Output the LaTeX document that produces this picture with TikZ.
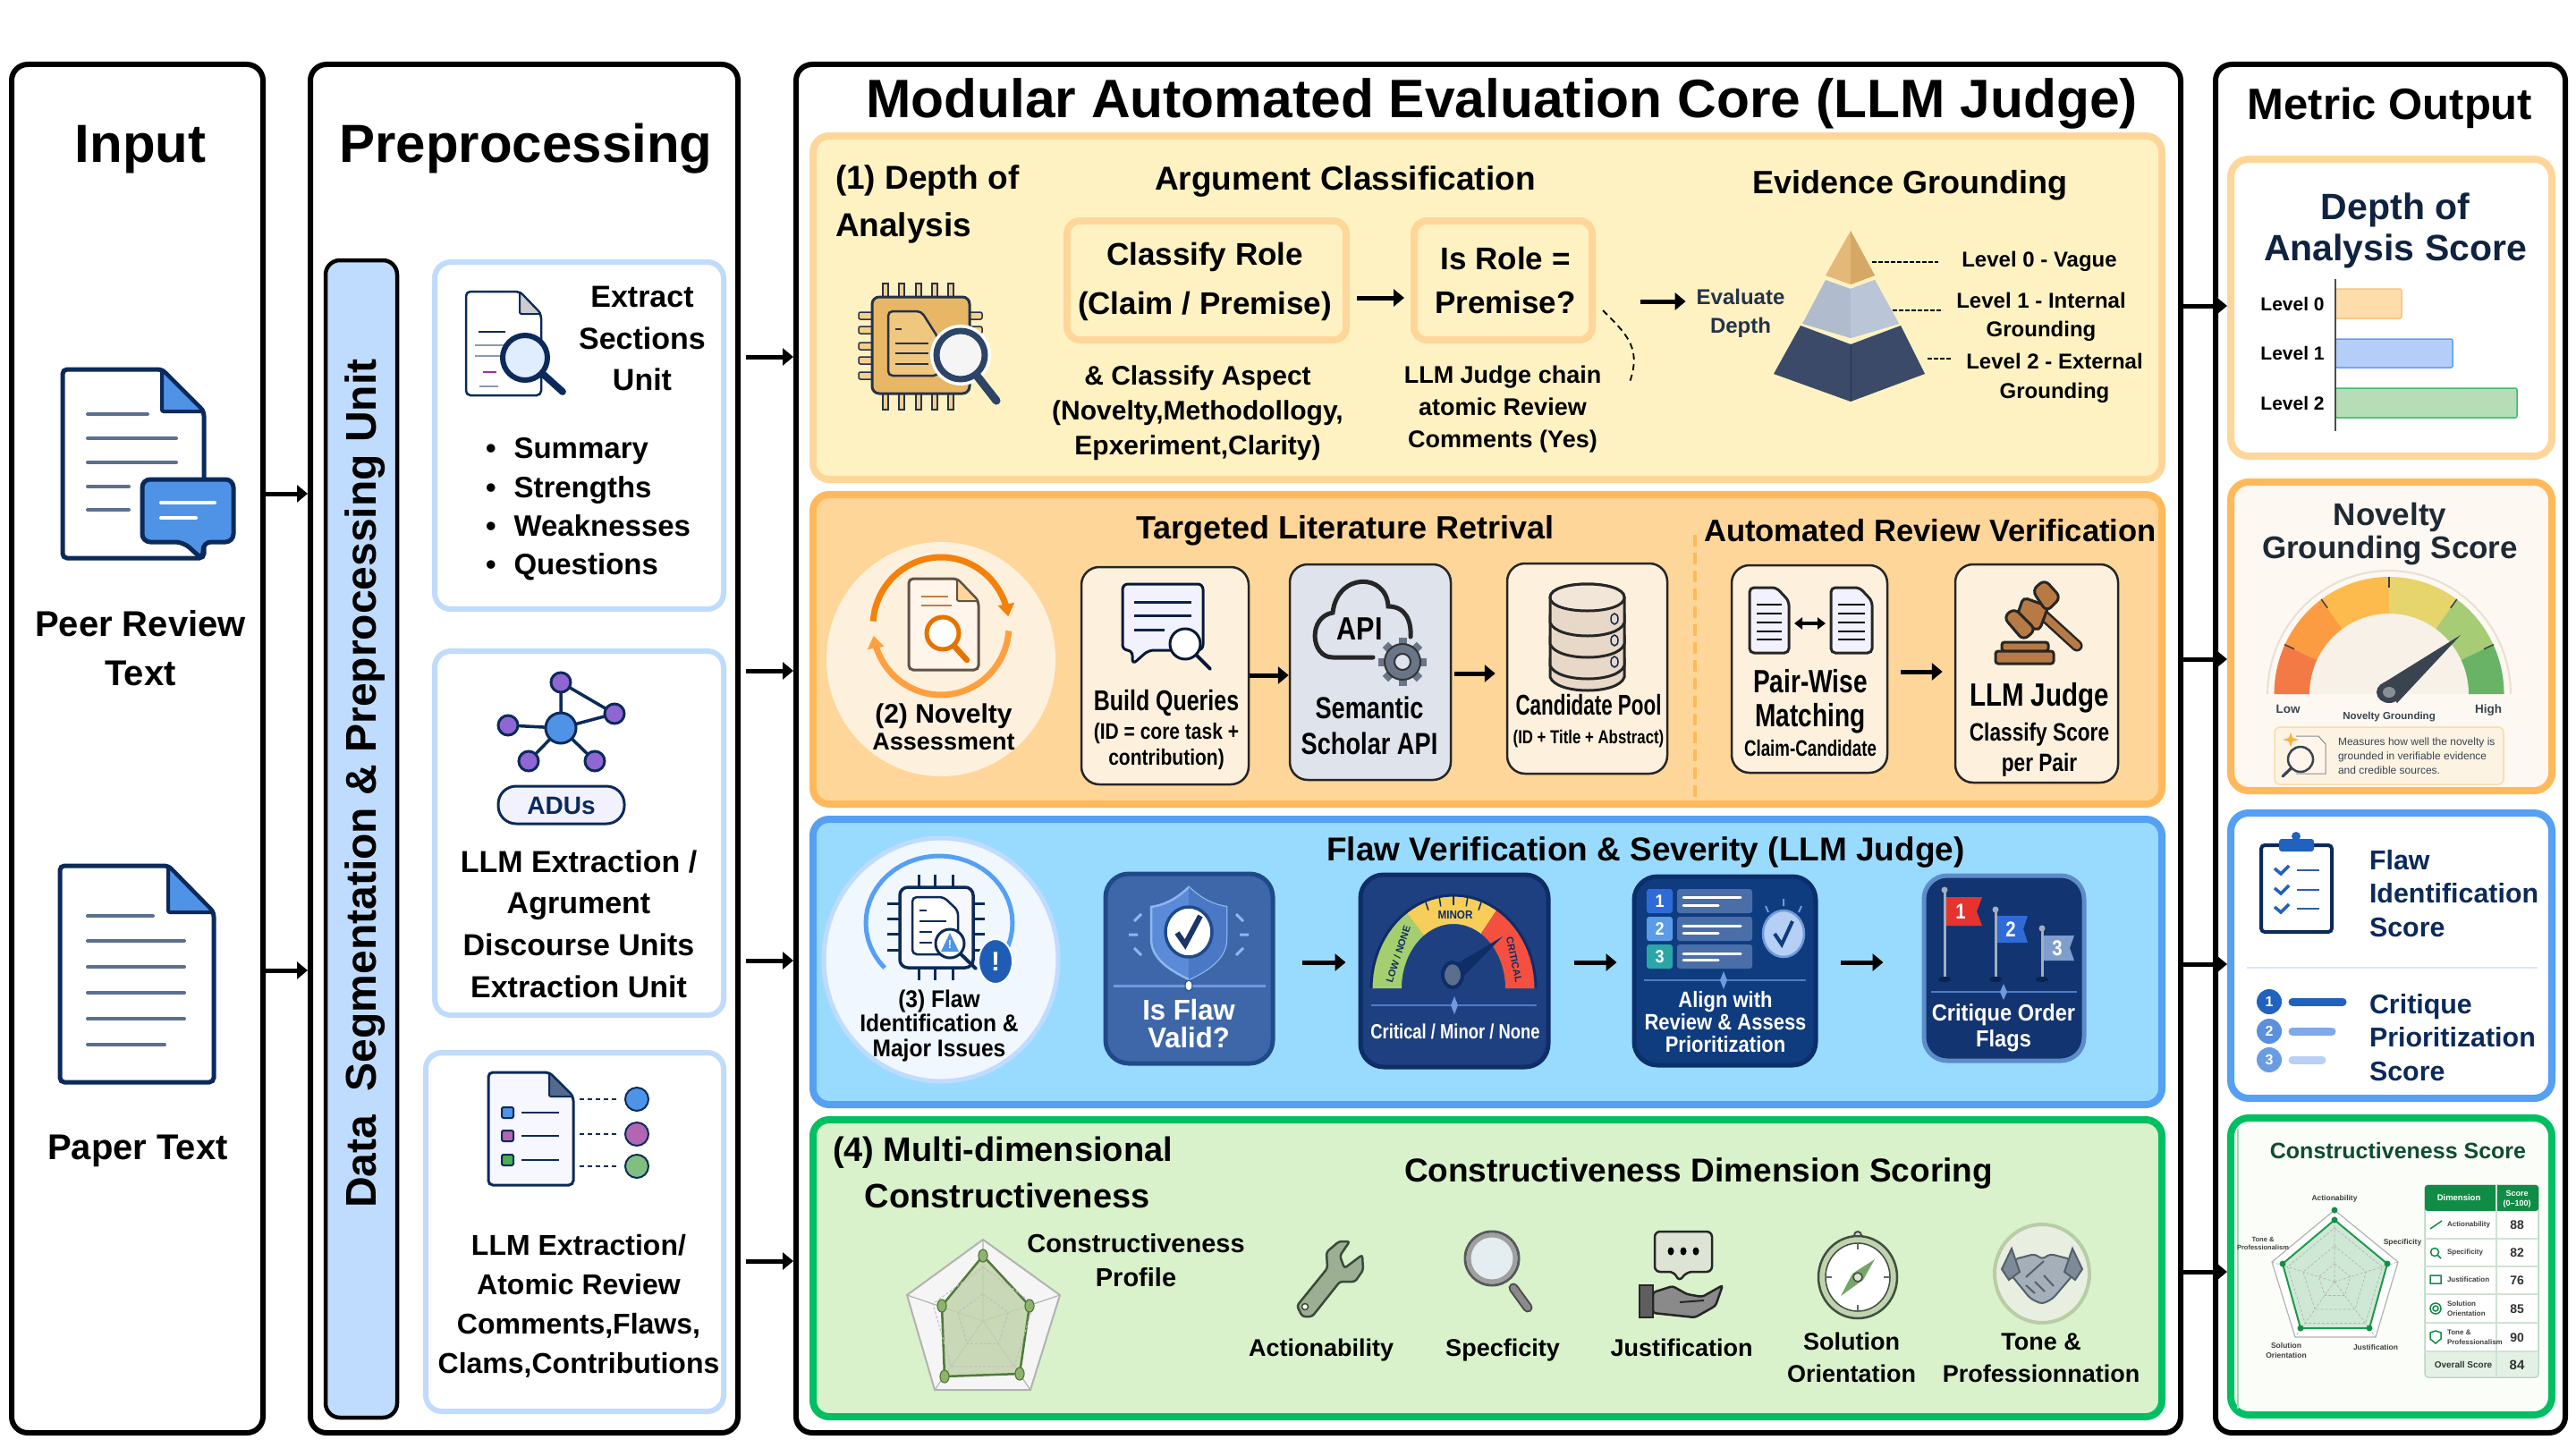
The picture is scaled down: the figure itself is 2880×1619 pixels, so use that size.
\documentclass[tikz,border=0pt]{standalone}
\usepackage{fontspec}
\setmainfont{Liberation Sans}
\usepackage{graphicx}
\usetikzlibrary{arrows.meta,calc}
\definecolor{navy}{HTML}{0B2A5B}
\definecolor{slate}{HTML}{5B6F91}
\definecolor{docblue}{HTML}{4F93E6}
\definecolor{cardb}{HTML}{BFDBFE}
\definecolor{pAf}{HTML}{FFF2C2}\definecolor{pAb}{HTML}{FFD699}
\definecolor{pBf}{HTML}{FFD699}\definecolor{pBb}{HTML}{FFB95A}
\definecolor{pCf}{HTML}{99DBFF}\definecolor{pCb}{HTML}{559FF5}
\definecolor{pDf}{HTML}{D9F2CB}\definecolor{pDb}{HTML}{00BF63}
\definecolor{cream}{HTML}{FDF1DD}
\definecolor{ink}{HTML}{24324B}
\globalcolorstrue
\foreach \cc in {B0BCCE,BAC6D8,3A4A68,FDF1DD,DEE3EC,6A7588,E8D8C8,F2E6D9,B87A45,F0F7FF,1F5CB5,3E67AA,1F4A8A,8FB6EE,5A8AD8,4A78C5,1A3566,6D9AE0,1E4080,0F2D66,A5CF6E,F7CE5A,F5503F,5A6F8C,4F7DC4,0F3B7F,0B2F6B,4A6FA8,2F6BD6,5B9BE8,2BA6A6,B5CFF5,123470,5D8CCB,A0AEC0,0B2350,E6332E,7F9ECB,C2D4AC,4F7A3A,8FB36F,9CAF93,3B4A3B,8A8A8A,55595C,E4EDF0,A0A0A0,DDE3D5,5E5E5E,C0D2AE,3F4F3F,77A468,E8EFE0,B8CDA5,A4AFB9,55606B,7E8A97,FDF8F2,FBFDF9,0F2340,FEDDAB,F9C37A,B4CEF8,5E9DF0,B7DDB7,3DBB6E,1F2933,EADFD2,F8F1E8,F47A45,FB9C43,FDBB4E,E6D46C,A6CC75,68B365,3A4450,8A8F96,FDF3E3,F9DDA8,F9B040,2062BE,2F5FA0,D7E7FB,5A90DD,6A9CE3,7FA9E8,B8D0F5,9DD9B4,0E4D30,CFE8D5,1D9A4A,129044,B5D6BE,E3F1E4,118C46,CFE2D4,E8B765,F0C77F,F5D08C,E3B878,D6A866}{\edef\tmpcc{\noexpand\definecolor{h\cc}{HTML}{\cc}}\tmpcc}
\globalcolorsfalse
\tikzset{
 box/.style={rectangle,inner sep=0pt,rounded corners=14pt},
 bigbox/.style={box,draw=black,line width=6pt,fill=white,rounded corners=18pt},
 panelbox/.style={box,line width=8pt,rounded corners=18pt},
 innerbox/.style={box,draw=cardb,line width=6pt,fill=white,rounded corners=18pt},
 lbl/.style={inner sep=0pt,outer sep=0pt},
 arr/.style={draw=black,line width=5pt,-{Triangle[length=12pt,width=19pt]}},
 softcard/.style={box,draw=black!85,line width=2.5pt,fill=cream,rounded corners=20pt},
 darkcard/.style={box,line width=5pt,rounded corners=26pt},
 docln/.style={draw=slate,line width=4pt,line cap=round},
}
\newcommand\bx[6][]{\node[box,#1,minimum width={#5-#3},minimum height={#6-#4}] (#2) at ({(#3+#5)/2},{(#4+#6)/2}) {};}
\newcommand\ml[8][]{\node[lbl,#1,font=\fontsize{#5}{#6}\selectfont\bfseries] (#2) at (#3,{#4+0.36*#5-0.2*#6}) {\scalebox{#7}[1]{\begin{tabular}{@{}c@{}}#8\end{tabular}}};}
\newcommand\mll[8][]{\node[lbl,anchor=west,#1,font=\fontsize{#5}{#6}\selectfont\bfseries] (#2) at (#3,{#4+0.36*#5-0.2*#6}) {\scalebox{#7}[1]{\begin{tabular}{@{}l@{}}#8\end{tabular}}};}
\newcommand\docc[7][]{\draw[#1,rounded corners=5pt] (#2,#3) -- (#6,#3) -- (#4,#7) -- (#4,#5) -- (#2,#5) -- cycle;}
\newcommand\fold[5]{\filldraw[#5,rounded corners=2pt] (#1,#2) -- (#3,#4) -- (#1,#4) -- cycle;}
\newcommand\magn[8]{\draw[#6,line width={#8*1.3},line cap=round] (#1,#2) -- (#4,#5);\fill[#7] (#1,#2) circle[radius=#3];\draw[#6,line width=#8] (#1,#2) circle[radius=#3];}
\newcommand\arcg[7][]{\draw[#1] plot[domain=#6:#7,samples=40] ({#2+#4*cos(\x)},{#3-#5*sin(\x)});}
\newcommand\wdg[9]{\fill[#9] plot[domain=#7:#8,samples=24] ({#1+#3*cos(\x)},{#2-#4*sin(\x)}) -- plot[domain=#8:#7,samples=24] ({#1+#5*cos(\x)},{#2-#6*sin(\x)}) -- cycle;}
\begin{document}
\begin{tikzpicture}[x=1pt,y=-1pt]
\useasboundingbox (0,0) rectangle (2880,1619);
\fill[white] (0,0) rectangle (2880,1619);
% big columns
\bx[bigbox]{inbox}{13}{72}{294}{1602}
\bx[bigbox]{prebox}{347}{72}{825}{1602}
\bx[bigbox]{corebox}{890}{72}{2438}{1602}
\bx[bigbox]{metbox}{2477}{72}{2868}{1602}
% INPUT
\ml{tinput}{157}{160}{60}{70}{1}{Input}
\docc[draw=navy,line width=5pt,fill=white]{70}{413}{228}{624}{181}{460}
\fold{181}{413}{228}{460}{draw=navy,line width=4pt,fill=docblue}
\foreach \y/\e in {463/165,490/197,517/197,544/144,570/144} \draw[docln] (98,\y) -- (\e,\y);
\draw[draw=navy,line width=5pt,fill=docblue,rounded corners=9pt] (159,536) -- (261,536) -- (261,606) -- (227,606) -- (227,626) -- (205,606) -- (159,606) -- cycle;
\draw[white,line width=4pt,line cap=round] (180,562) -- (240,562);
\draw[white,line width=4pt,line cap=round] (180,579) -- (219,579);
\ml{tpeer}{157}{725}{40}{55}{1}{Peer Review\\Text}
\docc[draw=navy,line width=5pt,fill=white]{67}{968}{239}{1210}{188}{1020}
\fold{188}{968}{239}{1020}{draw=navy,line width=4pt,fill=docblue}
\foreach \y/\e in {1024/171,1052/206,1081/206,1110/206,1139/206,1168/184} \draw[docln] (98,\y) -- (\e,\y);
\ml{tpaper}{154}{1282}{40}{72}{1}{Paper Text}
% PREPROCESSING
\ml{tprep}{588}{160}{60}{70}{1}{Preprocessing}
\bx[fill=cardb,draw=black,line width=4.5pt,rounded corners=16pt]{segbar}{364}{291}{444}{1585}
\ml[rotate=90]{tseg}{403}{876}{48}{86}{1}{Data\ \ Segmentation \& Preprocessing Unit}
\bx[innerbox]{cardA}{486}{293}{809}{681}
\bx[innerbox]{cardB}{486}{728}{809}{1135}
\bx[innerbox]{cardC}{476}{1177}{809}{1578}
\docc[draw=navy,line width=2.5pt,fill=white]{521}{326}{605}{442}{581}{351}
\fold{581}{326}{605}{351}{draw=navy,line width=2pt,fill=black!20}
\foreach \y/\a/\b in {371/535/565,386/531/582,398/531/563,416/540/555,432/536/557} \draw[slate!70,line width=2pt] (\a,\y) -- (\b,\y);
\draw[navy,line width=2.5pt] (535,371) -- (565,371);
\draw[violet!80,line width=2.5pt] (540,416) -- (555,416);
\magn{587}{400}{25}{629}{438}{navy}{cardb!50}{6}
\ml{tsect}{718}{378}{34}{46.5}{1}{Extract\\Sections\\Unit}
\node[lbl,anchor=west,font=\fontsize{33}{43.3}\selectfont\bfseries] (tbul) at (543,569) {\begin{tabular}{@{}c@{\hspace{20pt}}l@{}}\textbullet & Summary\\\textbullet & Strengths\\\textbullet & Weaknesses\\\textbullet & Questions\end{tabular}};
% network
\draw[navy,line width=3.5pt] (627,763) -- (627,814) (627,763) -- (687,798) (687,798) -- (627,814) (568,811) -- (627,814) (591,851) -- (627,814) (665,851) -- (627,814);
\foreach \x/\y in {627/763,687/798,568/811,591/851,665/851} \filldraw[fill=violet!55!blue!60,draw=navy,line width=3pt] (\x,\y) circle[radius=11];
\filldraw[fill=docblue,draw=navy,line width=3pt] (627,814) circle[radius=17];
\bx[fill=blue!5,draw=navy,line width=3pt,rounded corners=20pt]{pill}{557}{879}{698}{921}
\ml[text=navy]{tadu}{627.5}{900}{28}{50}{1}{ADUs}
\ml{tllma}{647}{1033}{34}{46.7}{1}{LLM Extraction /\\Agrument\\Discourse Units\\Extraction Unit}
% atomic
\docc[draw=navy,line width=3pt,fill=blue!3]{546}{1199}{641}{1325}{614}{1226}
\fold{614}{1199}{641}{1226}{draw=navy,line width=2pt,fill=navy!70}
\foreach \y/\c in {1244/docblue,1270/violet!60,1297/green!55!black!70} {\filldraw[fill=\c,draw=navy,line width=2pt,rounded corners=2pt] (561,\y-6) rectangle (574,\y+6);\draw[navy,line width=2.5pt] (583,\y) -- (625,\y);}
\foreach \y/\c in {1229/docblue,1268/violet!60,1304/green!50!black!50} {\draw[navy,line width=2.5pt,dash pattern=on 5pt off 4pt] (648,\y) -- (692,\y);\filldraw[fill=\c,draw=navy,line width=2pt] (712,\y) circle[radius=13];}
\ml{tllmb}{647}{1458}{32}{44}{1}{LLM Extraction/\\Atomic Review\\Comments,Flaws,\\Clams,Contributions}
% CORE
\ml{tcore}{1679}{110}{60.5}{100}{1}{Modular Automated Evaluation Core (LLM Judge)}
\bx[panelbox,fill=pAf,draw=pAb]{panA}{909}{152}{2417}{536}
\bx[panelbox,fill=pBf,draw=pBb]{panB}{909}{553}{2417}{899}
\bx[panelbox,fill=pCf,draw=pCb]{panC}{909}{916}{2417}{1235}
\bx[panelbox,fill=pDf,draw=pDb]{panD}{909}{1252}{2417}{1584}
% Panel 1
\mll{tdepth}{934}{225}{37}{53}{1}{(1) Depth of\\Analysis}
\ml{targ}{1504}{199}{37}{66}{1}{Argument Classification}
\ml{tevid}{2135}{204}{36}{64}{1}{Evidence Grounding}
\foreach \x in {990,1008,1027,1045,1063} \filldraw[fill=hF5D08C,draw=ink,line width=1.5pt] (\x-3,317) rectangle (\x+3,458);
\foreach \y in {353,369,387,403,420} \filldraw[fill=hF5D08C,draw=ink,line width=1.5pt,rounded corners=2pt] (960,\y-4) rectangle (1098,\y+4);
\filldraw[fill=hE8B765,draw=ink,line width=3pt,rounded corners=8pt] (975,332) rectangle (1084,440);
\docc[draw=ink,line width=2.5pt,fill=hF0C77F]{993}{348}{1049}{420}{1030}{378}
\foreach \y/\e in {368/1008,384/1038,395/1038,407/1038} \draw[ink,line width=2.5pt] (1001,\y) -- (\e,\y);
\fill[white] (1074,397) circle[radius=34];
\magn{1074}{397}{27}{1114}{448}{navy!70!gray}{white!92!gray}{7}
\bx[draw=pAb,fill=pAf,line width=8pt,rounded corners=14pt]{cls}{1193}{247}{1505}{380}
\ml{tcls}{1347}{311}{35}{55}{1}{Classify Role\\(Claim / Premise)}
\bx[draw=pAb,fill=pAf,line width=8pt,rounded corners=14pt]{isrole}{1581}{247}{1780}{380}
\ml{tisr}{1683}{313}{35}{49}{1}{Is Role =\\Premise?}
\ml{tasp}{1339}{459}{30}{39}{1}{\& Classify Aspect\\(Novelty,Methodollogy,\\Epxeriment,Clarity)}
\ml{tchain}{1680}{455}{27}{36}{1}{LLM Judge chain\\atomic Review\\Comments (Yes)}
\coordinate (dcA) at (1792,347);\coordinate (dcB) at (1821,430);
\draw[black,line width=1.8pt,dash pattern=on 7pt off 5pt] (dcA) .. controls (1820,375) and (1836,390) .. (dcB);
\ml[text=ink]{tevald}{1946}{348}{24}{32}{1}{Evaluate\\Depth}
% pyramid
\fill[hE3B878] (2069,258) -- (2096,308) -- (2069,318) -- (2041,308) -- cycle;
\fill[hD6A866] (2069,258) -- (2096,308) -- (2069,318) -- cycle;
\fill[hB0BCCE] (2041,313) -- (2069,323) -- (2096,313) -- (2123,362) -- (2069,378) -- (2015,362) -- cycle;
\fill[hBAC6D8] (2069,323) -- (2096,313) -- (2123,362) -- (2069,378) -- cycle;
\fill[h3A4A68] (2013,364) -- (2069,385) -- (2125,364) -- (2152,418) -- (2069,449) -- (1983,418) -- cycle;
\draw[ink,line width=1pt] (2069,385) -- (2069,449);
\coordinate (lzA) at (2093,293);\coordinate (lzB) at (2167,293);
\coordinate (loA) at (2116,347);\coordinate (loB) at (2172,347);
\coordinate (ltA) at (2155,401);\coordinate (ltB) at (2182,401);
\draw[black,line width=2.5pt,dash pattern=on 5pt off 2pt] (lzA) -- (lzB) (loA) -- (loB) (ltA) -- (ltB);
\ml{tlz}{2280}{290}{24}{32}{1}{Level 0 - Vague}
\ml{tlo}{2282}{352}{24}{32}{1}{Level 1 - Internal\\Grounding}
\ml{tlt}{2297}{420}{24}{33}{1}{Level 2 - External\\Grounding}
% Panel 2
\ml{ttar}{1504}{590}{36}{64}{1}{Targeted Literature Retrival}
\ml{tauto}{2158}{593}{34.6}{60}{1}{Automated Review Verification}
\draw[pBb,line width=4pt,dash pattern=on 13pt off 7pt] (1895,598) -- (1895,899);
\fill[hFDF1DD] (1052,737) ellipse[x radius=128,y radius=131];
\docc[draw=ink!60!brown,line width=3pt,fill=white!92!orange]{1016}{647}{1094}{749}{1070}{672}
\fold{1070}{647}{1094}{672}{draw=ink!60!brown,line width=2pt,fill=pAb}
\foreach \y/\e in {667/1060,677/1064} \draw[brown,line width=2.5pt] (1030,\y) -- (\e,\y);
\magn{1054}{708}{18}{1081}{738}{orange!90!black}{white}{5}
\arcg[draw=orange!85!brown,line width=7pt,-{Triangle[length=14pt,width=18pt]}]{1052}{700}{76}{77}{176}{8}
\arcg[draw=orange!75,line width=7pt,-{Triangle[length=14pt,width=18pt]}]{1052}{700}{76}{77}{-4}{-172}
\ml{tnovA}{1055}{798}{30}{40}{1}{(2) Novelty}
\ml{tnovB}{1055}{829}{27}{36}{1}{Assessment}
\bx[softcard]{bq}{1209}{634}{1396}{877}
\draw[navy!60!black,line width=3pt,fill=white!95!blue,rounded corners=6pt] (1255,653) -- (1345,653) -- (1345,727) -- (1284,727) -- (1266,743) -- (1266,727) -- (1255,727) -- cycle;
\foreach \y/\e in {673/1332,688/1332,704/1302} \draw[navy!80!black,line width=3pt] (1268,\y) -- (\e,\y);
\magn{1325}{720}{17}{1353}{748}{navy!60!black}{white}{3}
\ml{tbq}{1304}{783}{32}{44}{.78}{Build Queries}
\ml{tbqs}{1304}{832}{25}{29}{.84}{(ID = core task +\\contribution)}
\bx[softcard,fill=hDEE3EC]{ssa}{1442}{631}{1622}{872}
\draw[black!85,line width=5pt,line cap=round] (1535,735) -- (1490,735) .. controls (1465,735) and (1462,690) .. (1490,685) .. controls (1495,640) and (1550,640) .. (1552,678) .. controls (1572,678) and (1578,695) .. (1577,712);
\ml{tapi}{1520}{703}{36}{50}{.85}{API}
\foreach \a in {0,45,...,315} \draw[h6A7588,line width=9pt] (1568,740) -- ({1568+27*cos(\a)},{740+27*sin(\a)});
\filldraw[fill=h6A7588,draw=black!80,line width=2pt] (1568,740) circle[radius=20];
\filldraw[fill=hDEE3EC,draw=black!80,line width=2pt] (1568,740) circle[radius=9];
\ml{tsem}{1531}{811}{34}{40}{.8}{Semantic\\Scholar API}
\bx[softcard]{cand}{1685}{630}{1864}{865}
\filldraw[fill=hE8D8C8,draw=black!85,line width=3pt] (1733,737) -- (1733,757) .. controls (1740,777) and (1810,777) .. (1816,757) -- (1816,737) -- cycle;
\foreach \y in {716,692} \draw[fill=hE8D8C8,draw=black!85,line width=3pt] (1733,\y) .. controls (1740,\y+20) and (1810,\y+20) .. (1816,\y) -- (1816,\y+28) .. controls (1810,\y+48) and (1740,\y+48) .. (1733,\y+28) -- cycle;
\filldraw[fill=hE8D8C8,draw=black!85,line width=3pt] (1733,668) .. controls (1733,648) and (1816,648) .. (1816,668) -- (1816,696) .. controls (1810,716) and (1740,716) .. (1733,696) -- cycle;
\draw[black!85,line width=3pt,fill=hF2E6D9] (1733,668) .. controls (1733,648) and (1816,648) .. (1816,668) .. controls (1816,688) and (1733,688) .. (1733,668) -- cycle;
\foreach \y in {692,716,740} \draw[navy,line width=1.5pt] (1805,\y) ellipse[x radius=4,y radius=6];
\ml{tcand}{1776}{788}{32}{40}{.7}{Candidate Pool}
\ml{tcands}{1776}{824}{21}{30}{.8}{(ID + Title + Abstract)}
\bx[softcard]{pair}{1936}{632}{2110}{864}
\foreach \a/\b in {1956/2000,2047/2093}{
 \docc[draw=black!85,line width=3pt,fill=white!95!blue]{\a}{657}{\b}{730}{\b-14}{672}
 \foreach \y in {676,686,696,706,715} \draw[black,line width=2.5pt] (\a+8,\y) -- (\b-8,\y);
}
\draw[black,line width=3.5pt,{Triangle[length=9pt,width=13pt]}-{Triangle[length=9pt,width=13pt]}] (2006,697) -- (2041,697);
\ml{tpw}{2024}{781}{36}{38}{.78}{Pair-Wise\\Matching}
\ml{tpwc}{2024}{836}{25}{32}{.75}{Claim-Candidate}
\bx[softcard]{lju}{2186}{631}{2368}{875}
\draw[black!85,line width=13pt,line cap=round] (2276,680) -- (2322,722);
\draw[hB87A45,line width=8pt,line cap=round] (2276,680) -- (2322,722);
\draw[black!85,fill=hB87A45,line width=3pt,rounded corners=5pt] (2262,668) -- (2290,678) -- (2280,705) -- (2253,695) -- cycle;
\draw[black!85,fill=hB87A45,line width=3pt,rounded corners=7pt] (2272,660) -- (2286,648) -- (2304,668) -- (2288,684) -- cycle;
\draw[black!85,fill=hB87A45,line width=3pt,rounded corners=7pt] (2240,690) -- (2252,680) -- (2276,704) -- (2262,716) -- cycle;
\filldraw[fill=hB87A45,draw=black!85,line width=3pt,rounded corners=3pt] (2238,718) rectangle (2290,728);
\filldraw[fill=hB87A45,draw=black!85,line width=3pt,rounded corners=3pt] (2231,728) rectangle (2296,742);
\ml{tlj}{2280}{777}{36}{50}{.82}{LLM Judge}
\ml{tljs}{2280}{835}{28}{34}{.81}{Classify Score\\per Pair}
% Panel 3
\ml{tflawt}{1840}{949}{37}{66}{1}{Flaw Verification \& Severity (LLM Judge)}
\filldraw[fill=hF0F7FF,draw=cardb,line width=5pt] (1052,1073) ellipse[x radius=131,y radius=136];
\arcg[draw=pCb,line width=5pt]{1050}{1032}{82}{75}{-40}{222}
\filldraw[fill=white!97!blue,draw=navy,line width=3.5pt,rounded corners=9pt] (1006,992) rectangle (1088,1082);
\foreach \x in {1027,1045,1065} \draw[navy,line width=3pt] (\x,978) -- (\x,992) (\x,1082) -- (\x,1096);
\foreach \y in {1010,1027,1044,1062} \draw[navy,line width=3pt] (992,\y) -- (1006,\y) (1088,\y) -- (1101,\y);
\docc[draw=navy,line width=2.5pt,fill=white]{1020}{1003}{1071}{1067}{1055}{1018}
\foreach \y/\e in {1018/1036,1030/1058,1042/1042,1054/1042} \draw[navy,line width=2.5pt] (1028,\y) -- (\e,\y);
\magn{1062}{1055}{16}{1091}{1083}{navy}{white}{3}
\fill[docblue] (1062,1043) -- (1072,1064) -- (1052,1064) -- cycle;
\ml[text=white]{texcl}{1062}{1056}{13}{18}{1}{!}
\filldraw[fill=h1F5CB5,draw=white,line width=2pt] (1113,1075) ellipse[x radius=19,y radius=25];
\ml[text=white]{texcb}{1113}{1075}{30}{54}{1}{!}
\ml{tflA}{1050}{1144}{27}{27.5}{.91}{(3) Flaw\\Identification \&\\Major Issues}
\bx[darkcard,fill=h3E67AA,draw=h1F4A8A]{ffv}{1236}{977}{1423}{1189}
\draw[line width=2.5pt,draw=h8FB6EE,fill=h5A8AD8] (1329,992) .. controls (1345,1007) and (1358,1012) .. (1371,1014) -- (1371,1050) .. controls (1371,1072) and (1350,1085) .. (1329,1095) .. controls (1308,1085) and (1287,1072) .. (1287,1050) -- (1287,1014) .. controls (1300,1012) and (1313,1007) .. (1329,992) -- cycle;
\fill[h4A78C5] (1329,992) .. controls (1345,1007) and (1358,1012) .. (1371,1014) -- (1371,1050) .. controls (1371,1072) and (1350,1085) .. (1329,1095) -- cycle;
\filldraw[fill=white,draw=h1F4A8A,line width=3.5pt] (1329,1042) ellipse[x radius=26,y radius=28];
\draw[h1A3566,line width=6pt] (1316,1043) -- (1325,1056) -- (1342,1024);
\draw[h8FB6EE,line width=3pt] (1262,1045) -- (1272,1045) (1386,1045) -- (1396,1045) (1268,1030) -- (1276,1022) (1390,1030) -- (1382,1022) (1268,1060) -- (1276,1068) (1390,1060) -- (1382,1068);
\draw[h6D9AE0,line width=3pt] (1245,1102) -- (1415,1102);
\filldraw[fill=white,draw=h1F4A8A,line width=1pt] (1329,1102) ellipse[x radius=4,y radius=6];
\ml[text=white]{tisf}{1329}{1143}{32}{29}{.97}{Is Flaw\\Valid?}
\bx[darkcard,fill=h1E4080,draw=h0F2D66]{gau}{1521}{978}{1731}{1193}
\wdg{1625}{1105}{92}{104}{58}{72}{180}{125}{hA5CF6E}
\wdg{1625}{1105}{92}{104}{58}{72}{125}{58}{hF7CE5A}
\wdg{1625}{1105}{92}{104}{58}{72}{58}{0}{hF5503F}
\arcg[draw=h0F2D66,line width=3pt]{1625}{1105}{92}{104}{0}{180}
\foreach \a in {70,80,90,100,110} \draw[h0F2D66,line width=1.5pt] ({1625+92*cos(\a)},{1105-104*sin(\a)}) -- ({1625+82*cos(\a)},{1105-93*sin(\a)});
\fill[h0F2D66] (1680,1047) -- (1632,1096) -- (1618,1084) -- cycle;
\filldraw[fill=h5A6F8C,draw=h0F2D66,line width=4pt] (1624,1090) ellipse[x radius=11,y radius=14];
\ml[text=h0F2D66]{tgm}{1627}{1023}{13}{18}{.9}{MINOR}
\ml[rotate=72,text=h0F2D66]{tgl}{1563}{1067}{11}{20}{1}{LOW / NONE}
\ml[rotate=-78,text=h0F2D66]{tgc}{1693}{1073}{11}{20}{1}{CRITICAL}
\draw[h4F7DC4,line width=2.5pt] (1533,1124) -- (1718,1124);
\fill[h6D9AE0] (1626,1114) -- (1630,1124) -- (1626,1134) -- (1622,1124) -- cycle;
\ml[text=white]{tcmn}{1627}{1153}{23}{34}{.8}{Critical / Minor / None}
\bx[darkcard,fill=h0F3B7F,draw=h0B2F6B]{ali}{1827}{980}{2030}{1191}
\foreach \a/\b/\c/\n/\l/\m in {994/1021/2F6BD6/1/1003/1012,1025/1052/5B9BE8/2/1035/1043,1056/1083/2BA6A6/3/1066/1073}{
 \fill[color=h\c,rounded corners=3pt] (1841,\a) rectangle (1870,\b);
 \fill[h4A6FA8,rounded corners=3pt] (1875,\a) rectangle (1959,\b);
 \draw[white,line width=3pt,line cap=round] (1882,\l) -- (1946,\l) (1882,\m) -- (1921,\m);
 \ml[text=white]{tali\n}{1855.5}{(\a+\b)/2}{20}{36}{.9}{\n}
}
\filldraw[fill=hB5CFF5,draw=h6D9AE0,line width=2.5pt] (1994,1044) ellipse[x radius=23,y radius=26];
\draw[h0F3B7F,line width=4pt] (1984,1044) -- (1992,1056) -- (2004,1030);
\draw[h6D9AE0,line width=2pt] (1994,1005) -- (1994,1013) (1974,1013) -- (1977,1020) (2014,1013) -- (2011,1020);
\draw[h4F7DC4,line width=2.5pt] (1838,1096) -- (2019,1096);
\fill[h6D9AE0] (1927,1086) -- (1931,1096) -- (1927,1106) -- (1923,1096) -- cycle;
\ml[text=white]{talit}{1929}{1142}{25}{24.5}{.88}{Align with\\Review \& Assess\\Prioritization}
\bx[darkcard,fill=h123470,draw=h5D8CCB]{flg}{2151}{979}{2330}{1186}
\foreach \x/\t in {2174/995,2231/1017,2283/1038} {\draw[hA0AEC0,line width=3pt] (\x,\t) -- (\x,1095);\fill[hA0AEC0] (\x,\t) circle[radius=3.5];\fill[h0B2350] (\x,1095) ellipse[x radius=7,y radius=3];}
\fill[hE6332E] (2176,1003) -- (2216,1003) -- (2210,1019) -- (2216,1035) -- (2176,1035) -- cycle;
\fill[h2F6BD6] (2233,1024) -- (2267,1024) -- (2262,1039) -- (2267,1054) -- (2233,1054) -- cycle;
\fill[h7F9ECB] (2285,1046) -- (2319,1046) -- (2314,1060) -- (2319,1074) -- (2285,1074) -- cycle;
\ml[text=white]{tfa}{2192}{1019}{24}{43}{.85}{1}
\ml[text=white]{tfb}{2248}{1039}{24}{43}{.85}{2}
\ml[text=white]{tfc}{2300}{1060}{24}{43}{.85}{3}
\draw[h4F7DC4,line width=2.5pt] (2159,1109) -- (2322,1109);
\fill[h6D9AE0] (2240,1100) -- (2244,1109) -- (2240,1118) -- (2236,1109) -- cycle;
\ml[text=white]{tcof}{2240}{1147}{26}{29}{.91}{Critique Order\\Flags}
% Panel 4
\mll{tmd}{931}{1285}{38}{70}{1}{(4) Multi-dimensional}
\ml{tcon}{1126}{1337}{38}{70}{1}{Constructiveness}
\ml{tcds}{1899}{1308}{37}{66}{1}{Constructiveness Dimension Scoring}
\ml{tcp}{1270}{1409}{29}{38}{1}{Constructiveness\\Profile}
\coordinate (rc) at (1099,1477);\coordinate (ra) at (1099,1386);\coordinate (rb) at (1185,1448);\coordinate (rd) at (1152,1554);\coordinate (re) at (1045,1554);\coordinate (rf) at (1014,1448);
\filldraw[fill=black!4,draw=black!30,line width=2pt] (ra) -- (rb) -- (rd) -- (re) -- (rf) -- cycle;
\draw[black!30,line width=1.2pt] (rc) -- (ra) (rc) -- (rb) (rc) -- (rd) (rc) -- (re) (rc) -- (rf);
\filldraw[fill=hC2D4AC,fill opacity=.85,draw=h4F7A3A,line width=2.5pt] (1099,1404) -- (1151,1460) -- (1140,1536) -- (1056,1539) -- (1053,1460) -- cycle;
\foreach \f in {.33,.66} \draw[black!25,line width=1pt,dash pattern=on 3pt off 2pt] ($(rc)!\f!(ra)$) -- ($(rc)!\f!(rb)$) -- ($(rc)!\f!(rd)$) -- ($(rc)!\f!(re)$) -- ($(rc)!\f!(rf)$) -- cycle;
\foreach \x/\y in {1099/1404,1151/1460,1140/1536,1056/1539,1053/1460} \filldraw[fill=h8FB36F,draw=h4F7A3A,line width=1.2pt] (\x,\y) ellipse[x radius=5,y radius=7];
% wrench
\filldraw[fill=h9CAF93,draw=h3B4A3B,line width=2.5pt,rounded corners=3pt] (1456,1472) -- (1450,1460) -- (1484,1418) -- (1483,1400) -- (1497,1388) -- (1509,1388) -- (1498,1404) -- (1503,1418) -- (1523,1403) -- (1524,1420) -- (1515,1433) -- (1498,1433) -- (1467,1472) -- cycle;
\filldraw[fill=white,draw=h3B4A3B,line width=1.5pt] (1459,1461) circle[radius=3.5];
\ml{tact}{1477}{1507}{27}{36}{1}{Actionability}
% magnifier
\draw[black!70,line width=11pt,line cap=round] (1692,1440) -- (1708,1462);
\draw[h8A8A8A,line width=7pt,line cap=round] (1692,1440) -- (1708,1462);
\filldraw[fill=hE4EDF0,draw=h55595C,line width=3pt] (1668,1407) circle[radius=30];
\draw[hA0A0A0,line width=5pt] (1668,1407) circle[radius=26];
\ml{tspe}{1680}{1507}{27}{36}{1}{Specficity}
% justification
\draw[fill=hDDE3D5,draw=black!85,line width=2.5pt,rounded corners=6pt] (1850,1377) -- (1914,1377) -- (1914,1422) -- (1886,1422) -- (1877,1433) -- (1872,1422) -- (1850,1422) -- cycle;
\foreach \x in {1868,1882,1896} \fill[black] (\x,1399) ellipse[x radius=3.5,y radius=4.5];
\filldraw[fill=h8A8A8A,draw=black!85,line width=2.5pt,rounded corners=3pt] (1848,1445) -- (1870,1438) -- (1886,1447) -- (1903,1450) -- (1926,1437) -- (1918,1460) -- (1895,1473) -- (1848,1468) -- cycle;
\filldraw[fill=h5E5E5E,draw=black!85,line width=2.5pt] (1833,1437) rectangle (1848,1473);
\draw[black!85,line width=2pt] (1878,1456) -- (1905,1454);
\ml{tjus}{1880}{1507}{27}{36}{1}{Justification}
% compass
\filldraw[fill=hDDE3D5,draw=black!70,line width=2pt] (2077,1381) circle[radius=4];
\filldraw[fill=hC0D2AE,draw=h3F4F3F,line width=2.5pt] (2077,1428) ellipse[x radius=44,y radius=46];
\filldraw[fill=white,draw=h3F4F3F,line width=1.5pt] (2077,1428) ellipse[x radius=36,y radius=38];
\foreach \a in {0,90,180,270} \draw[black!60,line width=2pt] ({2077+36*cos(\a)},{1428+38*sin(\a)}) -- ({2077+29*cos(\a)},{1428+31*sin(\a)});
\fill[h77A468] (2096,1408) -- (2083,1431) -- (2058,1449) -- (2071,1424) -- cycle;
\filldraw[fill=hDDE3D5,draw=h3F4F3F,line width=1.5pt] (2077,1428) circle[radius=5];
\ml{tsol}{2070}{1518}{27}{36}{1}{Solution\\Orientation}
% handshake
\filldraw[fill=hE8EFE0,draw=hB8CDA5,line width=4pt] (2283,1424) ellipse[x radius=53,y radius=55];
\filldraw[fill=hA4AFB9,draw=h55606B,line width=2pt,rounded corners=4pt] (2252,1408) -- (2275,1402) -- (2283,1408) -- (2292,1402) -- (2315,1408) -- (2318,1425) -- (2295,1452) -- (2283,1458) -- (2270,1452) -- (2248,1425) -- cycle;
\filldraw[fill=h7E8A97,draw=h55606B,line width=2pt] (2238,1419) -- (2249,1396) -- (2258,1422) -- (2246,1431) -- cycle;
\filldraw[fill=h7E8A97,draw=h55606B,line width=2pt] (2328,1419) -- (2317,1396) -- (2308,1422) -- (2320,1431) -- cycle;
\draw[h55606B,line width=2pt] (2265,1428) -- (2285,1410) (2265,1437) -- (2275,1446) (2275,1433) -- (2286,1444) (2285,1426) -- (2296,1438);
\ml{ttone}{2282}{1518}{27}{36}{1}{Tone \&\\Professionnation}
% METRIC
\ml{tmet}{2672}{116}{49}{88}{1}{Metric Output}
\bx[draw=pAb,fill=white,line width=8pt,rounded corners=20pt]{mcA}{2494}{178}{2853}{510}
\bx[draw=pBb,fill=hFDF8F2,line width=8pt,rounded corners=20pt]{mcB}{2494}{539}{2853}{884}
\bx[draw=pCb,fill=white,line width=8pt,rounded corners=20pt]{mcC}{2494}{909}{2853}{1228}
\bx[draw=pDb,fill=hFBFDF9,line width=8pt,rounded corners=20pt]{mcD}{2494}{1250}{2853}{1582}
\ml[text=h0F2340]{tdas}{2678}{254}{41}{46}{1}{Depth of\\Analysis Score}
\filldraw[fill=hFEDDAB,draw=hF9C37A,line width=1.5pt,rounded corners=2pt] (2611,323) rectangle (2685,356);
\filldraw[fill=hB4CEF8,draw=h5E9DF0,line width=1.5pt,rounded corners=2pt] (2611,379) rectangle (2742,411);
\filldraw[fill=hB7DDB7,draw=h3DBB6E,line width=1.5pt,rounded corners=2pt] (2611,434) rectangle (2814,467);
\draw[black!70,line width=2pt] (2611,312) -- (2611,482);
\ml{tlvl}{2563}{395}{21}{55.5}{1}{Level 0\\Level 1\\Level 2}
\ml[text=h1F2933]{tngs}{2672}{593}{35}{37}{1}{Novelty\\Grounding Score}
\arcg[draw=hEADFD2,line width=2pt]{2671}{776}{136}{138}{0}{180}
\wdg{2671}{776}{128.5}{131}{0}{0}{0}{180}{hF8F1E8}
\wdg{2671}{776}{128.5}{131}{89}{90}{180}{155}{hF47A45}
\wdg{2671}{776}{128.5}{131}{89}{90}{155}{126}{hFB9C43}
\wdg{2671}{776}{128.5}{131}{89}{90}{126}{90}{hFDBB4E}
\wdg{2671}{776}{128.5}{131}{89}{90}{90}{54}{hE6D46C}
\wdg{2671}{776}{128.5}{131}{89}{90}{54}{25}{hA6CC75}
\wdg{2671}{776}{128.5}{131}{89}{90}{25}{0}{h68B365}
\foreach \a in {155,126,90,54,25} \draw[black!75,line width=1.5pt] ({2671+129*cos(\a)},{776-131*sin(\a)}) -- ({2671+117*cos(\a)},{776-119*sin(\a)});
\fill[h3A4450] (2751,710) -- (2680,786) -- (2664,764) -- cycle;
\fill[h3A4450] (2671,774) ellipse[x radius=14,y radius=12];
\fill[h8A8F96] (2671,774) ellipse[x radius=7,y radius=6];
\ml[text=h3A4450]{tlow}{2558}{793}{13.5}{24}{1}{Low}
\ml[text=h3A4450]{thigh}{2782}{793}{13.5}{24}{1}{High}
\ml[text=h3A4450]{tng}{2671}{800}{11.5}{20}{1}{Novelty Grounding}
\bx[fill=hFDF3E3,draw=hF9DDA8,line width=1.5pt,rounded corners=6pt]{mnote}{2543}{813}{2799}{877}
\draw[black!45,line width=1pt,fill=white!92!orange] (2567,823) -- (2592,823) -- (2600,832) -- (2600,865) -- (2567,865);
\magn{2572}{849}{14}{2552}{868}{h3A4450}{white!92!orange}{2.5}
\fill[hF9B040] (2561,819) -- (2563,825) -- (2570,827) -- (2563,829) -- (2561,835) -- (2559,829) -- (2552,827) -- (2559,825) -- cycle;
\mll[text=h3A4450]{tnote}{2614}{845}{12}{16}{1}{\mdseries Measures how well the novelty is\\\mdseries grounded in verifiable evidence\\\mdseries and credible sources.}
% flaw card
\draw[navy,line width=4pt,rounded corners=4pt] (2548,945) -- (2528,945) -- (2528,1042) -- (2607,1042) -- (2607,945) -- (2587,945);
\fill[h2062BE,rounded corners=3pt] (2548,938) rectangle (2587,952);
\fill[h2062BE] (2567,935) circle[radius=5];
\foreach \y in {973,995,1016} {\draw[h2062BE,line width=3.5pt] (2543,\y-2) -- (2550,\y+4) -- (2559,\y-5);\draw[h2F5FA0,line width=2.5pt] (2568,\y) -- (2593,\y);}
\mll[text=navy]{tfis}{2649}{999}{30.4}{37.5}{1}{Flaw\\Identification\\Score}
\draw[hD7E7FB,line width=1.5pt] (2512,1082) -- (2837,1082);
\foreach \y/\c/\n/\e/\d in {1120/2062BE/1/2619/2062BE,1153/5A90DD/2/2607/7FA9E8,1185/6A9CE3/3/2596/B8D0F5}{
 \fill[color=h\c] (2537,\y) ellipse[x radius=14,y radius=14];
 \draw[color=h\d,line width=9pt,line cap=round] (2563,\y) -- (\e,\y);
 \ml[text=white]{tcrn\n}{2537}{\y}{16}{29}{1}{\n}
}
\mll[text=navy]{tcps}{2649}{1160}{30.4}{37.5}{1}{Critique\\Prioritization\\Score}
% constructiveness card
\draw[h9DD9B4,line width=1.5pt] (2502,1262) -- (2502,1575);
\ml[text=h0E4D30]{tcsc}{2681}{1286}{25}{45}{1}{Constructiveness Score}
\coordinate (sc) at (2610,1433);\coordinate (sa) at (2610,1353);\coordinate (sb) at (2681,1411);\coordinate (sd) at (2656,1495);\coordinate (se) at (2566,1495);\coordinate (sf) at (2540,1411);
\draw[black!30,line width=1.2pt,fill=white] (sa) -- (sb) -- (sd) -- (se) -- (sf) -- cycle;
\filldraw[fill=hCFE8D5,draw=h1D9A4A,line width=2pt] (2610,1364) -- (2669,1413) -- (2649,1485) -- (2572,1485) -- (2552,1413) -- cycle;
\foreach \f in {.25,.5,.75} \draw[black!30,line width=.7pt,dash pattern=on 3pt off 2pt] ($(sc)!\f!(sa)$) -- ($(sc)!\f!(sb)$) -- ($(sc)!\f!(sd)$) -- ($(sc)!\f!(se)$) -- ($(sc)!\f!(sf)$) -- cycle;
\draw[black!30,line width=.7pt,dash pattern=on 3pt off 2pt] (sc) -- (sa) (sc) -- (sb) (sc) -- (sd) (sc) -- (se) (sc) -- (sf);
\foreach \x/\y in {2610/1353,2610/1364,2669/1413,2649/1485,2572/1485,2552/1413} \fill[h129044] (\x,\y) circle[radius=3.5];
\ml[text=black!75]{trA}{2610}{1339}{8.5}{15}{1}{Actionability}
\ml[text=black!75]{trB}{2686}{1388}{8.5}{15}{1}{Specificity}
\ml[text=black!75]{trE}{2530}{1390.5}{7.5}{9}{1}{Tone \&\\Professionalism}
\ml[text=black!75]{trD}{2556}{1510}{8.5}{11.5}{1}{Solution\\Orientation}
\ml[text=black!75]{trC}{2656}{1506}{8.5}{15}{1}{Justification}
\bx[fill=white,draw=hB5D6BE,line width=1.5pt,rounded corners=4pt]{tbl}{2711}{1325}{2838}{1540}
\fill[hE3F1E4,rounded corners=3pt] (2712,1511) rectangle (2837,1539);
\fill[h118C46,rounded corners=3pt] (2711,1325) rectangle (2838,1354);
\foreach \y in {1385,1416,1447,1479,1511} \draw[hCFE2D4,line width=1.2pt] (2711,\y) -- (2838,\y);
\draw[hCFE2D4,line width=1.2pt] (2791,1325) -- (2791,1540);
\ml[text=white]{thd}{2749}{1339}{9.5}{17}{1}{Dimension}
\ml[text=white]{ths}{2814}{1339.5}{9}{11}{1}{Score\\(0–100)}
\mll[text=black!75]{trw}{2736}{1369}{8}{14}{1}{Actionability}
\mll[text=black!75]{trx}{2736}{1400}{8}{14}{1}{Specificity}
\mll[text=black!75]{try}{2736}{1431}{8}{14}{1}{Justification}
\mll[text=black!75]{trz}{2736}{1463}{8}{10.5}{1}{Solution\\Orientation}
\mll[text=black!75]{trv}{2736}{1495}{8}{10.5}{1}{Tone \&\\Professionalism}
\ml[text=black!80]{tva}{2814}{1369}{14}{25}{1}{88}
\ml[text=black!80]{tvb}{2814}{1400}{14}{25}{1}{82}
\ml[text=black!80]{tvc}{2814}{1431}{14}{25}{1}{76}
\ml[text=black!80]{tvd}{2814}{1463}{14}{25}{1}{85}
\ml[text=black!80]{tve}{2814}{1495}{14}{25}{1}{90}
\ml[text=black!80]{tos}{2754}{1526}{10}{18}{1}{Overall Score}
\ml[text=black!80]{tvf}{2814}{1526}{15}{27}{1}{84}
\draw[h118C46,line width=1.5pt] (2717,1374) -- (2730,1365) (2722,1400) circle[radius=4.5] (2725,1403) -- (2729,1407) (2717,1426) rectangle (2729,1435);
\draw[h118C46,line width=1.5pt] (2723,1463) circle[radius=6] (2723,1463) circle[radius=3];
\draw[h118C46,line width=1.5pt] (2717,1490) -- (2723,1488) -- (2729,1490) -- (2729,1497) -- (2723,1502) -- (2717,1497) -- cycle;
% connectors
\draw[arr] (inbox.east |- 0,552) -- (prebox.west |- 0,552);
\draw[arr] (inbox.east |- 0,1085) -- (prebox.west |- 0,1085);
\foreach \y in {399,750,1074,1410} \draw[arr,shorten <=6pt] (prebox.east |- 0,\y) -- (corebox.west |- 0,\y);
\draw[arr] (corebox.east |- 0,342) -- (mcA.west |- 0,342);
\draw[arr] (corebox.east |- 0,737) -- (mcB.west |- 0,737);
\draw[arr] (corebox.east |- 0,1078) -- (mcC.west |- 0,1078);
\draw[arr] (corebox.east |- 0,1422) -- (mcD.west |- 0,1422);
\draw[arr,shorten <=8pt,shorten >=7pt] (cls.east |- 0,333) -- (isrole.west |- 0,333);
\draw[arr,shorten <=50pt,shorten >=12pt] (isrole.east |- 0,337) -- (tevald.west |- 0,337);
\draw[arr] (bq.east |- 0,755) -- (ssa.west |- 0,755);
\draw[arr,shorten <=3pt,shorten >=12pt] (ssa.east |- 0,753) -- (cand.west |- 0,753);
\draw[arr,shorten <=14pt,shorten >=13pt] (pair.east |- 0,751) -- (lju.west |- 0,751);
\draw[arr,shorten <=30pt,shorten >=14pt] (ffv.east |- 0,1076) -- (gau.west |- 0,1076);
\draw[arr,shorten <=26pt,shorten >=17pt] (gau.east |- 0,1076) -- (ali.west |- 0,1076);
\draw[arr,shorten <=25pt,shorten >=43pt] (ali.east |- 0,1076) -- (flg.west |- 0,1076);
\end{tikzpicture}
\end{document}
